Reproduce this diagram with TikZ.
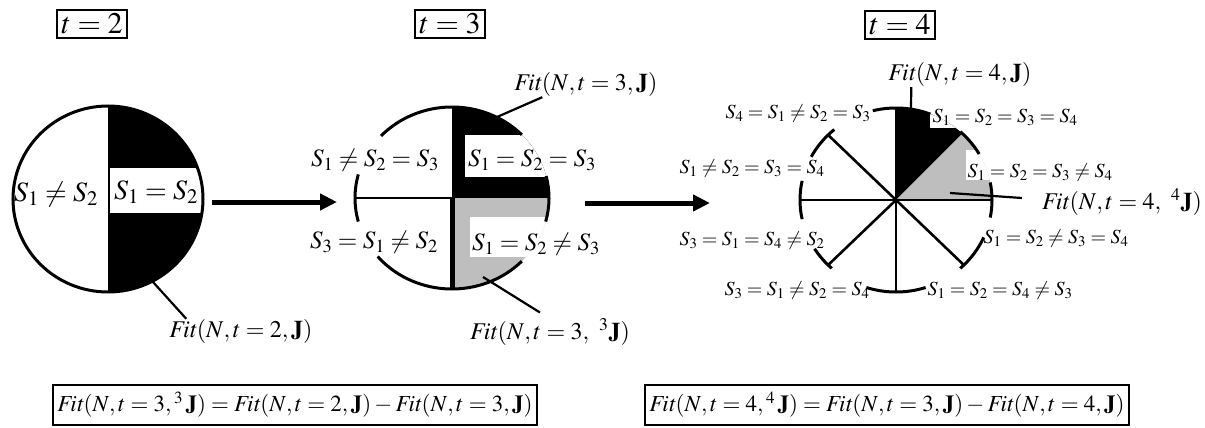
\documentclass[tikz,border=0pt]{standalone}
\usepackage{mathptmx}
\usepackage{tikz}
\usetikzlibrary{arrows.meta,positioning,calc}
\definecolor{ink}{HTML}{000000}
\definecolor{stipple}{HTML}{BEBEBE}
\newcommand{\Fit}{\mathit{Fit}}
\tikzset{
  tbox/.style={draw=ink, line width=1.8pt, inner sep=4pt, font=\fontsize{30}{32}\selectfont},
  eqbox/.style={draw=ink, line width=1.8pt, inner sep=4pt, minimum height=40pt,
                font=\fontsize{23}{26}\selectfont},
  bigs/.style={inner sep=0pt, font=\fontsize{28}{30}\selectfont},
  mids/.style={inner sep=0pt, font=\fontsize{25}{28}\selectfont},
  smalls/.style={inner sep=0pt, font=\fontsize{20}{24}\selectfont},
  fitlab/.style={inner sep=0pt, font=\fontsize{24}{28}\selectfont},
  rim/.style={line width=3pt, draw=ink},
  spoke/.style={line width=2.6pt, draw=ink},
  lead/.style={line width=2.2pt, draw=ink},
  flow/.style={-{Triangle[length=17pt,width=16pt]}, line width=5pt, draw=ink}
}

\begin{document}
\begin{tikzpicture}[x=1pt,y=-1pt]
  \useasboundingbox (0,0) rectangle (1205,428);
  % time stamps
  \node[tbox] (t2) at (92,24) {$t=2$};
  \node[tbox] (t3) at (450,24) {$t=3$};
  \node[tbox] (t4) at (900,25) {$t=4$};

  % t = 2
  \coordinate (c1) at (108,199);
  \begin{scope}
    \clip (c1) ellipse [x radius=95, y radius=93];
    \fill[ink] (108,100) rectangle (210,300);
    \fill[white] (110,168) rectangle (210,213);
  \end{scope}
  \draw[rim] (c1) ellipse [x radius=95, y radius=93];
  \node[bigs] (ne12) at (56,194) {$S_1\neq S_2$};
  \node[bigs] (eq12) at (156,192) {$S_1=S_2$};
  \node[fitlab] (fitA) at (241,331) {$\Fit(N,t=2,\mathbf{J})$};
  \coordinate (pA) at (153,282);
  \draw[lead] (pA) -- ([xshift=17pt]fitA.north west);

  % t = 3
  \coordinate (c2) at (452,198);
  \begin{scope}
    \clip (c2) ellipse [x radius=97, y radius=91];
    \fill[ink] (452,90) rectangle (560,198);
    \fill[white] (465,135) rectangle (560,177);
    \fill[stipple] (452,198) rectangle (560,300);
    \fill[white] (470,217) rectangle (560,257);
  \end{scope}
  \draw[line width=1.6pt] (c2) -- ++(-97,0);
  \draw[line width=5pt] (c2) -- ++(0,91);
  \foreach \a/\b in {-44/-137,-165/-195,-220/-316,15/-14}
    \draw[rim] ([shift={(\a:97 and 91)}]c2) arc[start angle=\a, end angle=\b, x radius=97, y radius=91];
  \node[mids] (l3a) at (375,160) {$S_1\neq S_2=S_3$};
  \node[mids] (l3b) at (532,160) {$S_1=S_2=S_3$};
  \node[mids] (l3c) at (374,242) {$S_3=S_1\neq S_2$};
  \node[mids] (l3d) at (536,244) {$S_1=S_2\neq S_3$};
  \node[fitlab] (fitB) at (586,85) {$\Fit(N,t=3,\mathbf{J})$};
  \node[fitlab] (fitC) at (550,332) {$\Fit(N,t=3,\ {}^{3}\mathbf{J})$};
  \coordinate (pB) at (497,117);
  \coordinate (pC) at (483,277);
  \draw[lead] (pB) -- ([xshift=28pt]fitB.south west);
  \draw[lead] (pC) -- ([xshift=70pt,yshift=6pt]fitC.north west);

  % t = 4
  \coordinate (c3) at (896,200);
  \begin{scope}
    \clip (c3) ellipse [x radius=96, y radius=92];
    \fill[ink] (c3) -- (1100,-4) -- (896,-4) -- cycle;
    \fill[stipple] (c3) -- (1100,-4) -- (1100,200) -- cycle;
    \fill[white] (930,90) rectangle (1100,128);
    \fill[white] (966,150) rectangle (1100,180);
  \end{scope}
  \foreach \a in {0,-90,-135,-180,-225,-270,-315}
    \draw[spoke] (c3) -- ++(\a:96 and 92);
  \foreach \a/\b in {11/-11,-30/-48,-69/-104,-130/-152,-168/-192,-212/-228,-252/-288,-312/-336}
    \draw[rim] ([shift={(\a:96 and 92)}]c3) arc[start angle=\a, end angle=\b, x radius=96, y radius=92];
  \node[smalls] (l4a) at (798,113) {$S_4=S_1\neq S_2=S_3$};
  \node[smalls] (l4b) at (1005,117) {$S_1=S_2=S_3=S_4$};
  \node[smalls] (l4c) at (752,168) {$S_1\neq S_2=S_3=S_4$};
  \node[smalls] (l4d) at (1040,172) {$S_1=S_2=S_3\neq S_4$};
  \node[smalls] (l4e) at (752,240) {$S_3=S_1=S_4\neq S_2$};
  \node[smalls] (l4f) at (1056,238) {$S_1=S_2\neq S_3=S_4$};
  \node[smalls] (l4g) at (797,290) {$S_3=S_1\neq S_2=S_4$};
  \node[smalls] (l4h) at (1000,290) {$S_1=S_2=S_4\neq S_3$};
  \node[fitlab] (fitD) at (960,75) {$\Fit(N,t=4,\mathbf{J})$};
  \node[fitlab] (fitE) at (1122,202) {$\Fit(N,t=4,\ {}^{4}\mathbf{J})$};
  \coordinate (pD) at (911,108);
  \coordinate (pE) at (950,193);
  \draw[lead] (pD) -- ([xshift=23pt]fitD.south west);
  \draw[lead] (pE) -- ([xshift=-20pt,yshift=4pt]fitE.west);

  % steps
  \coordinate (a1s) at (212,202);
  \coordinate (a1e) at (337,202);
  \coordinate (a2s) at (585,203);
  \coordinate (a2e) at (710,203);
  \draw[flow] (a1s) -- (a1e);
  \draw[flow] (a2s) -- (a2e);

  % differences
  \node[eqbox] (d3) at (295,405) {$\Fit(N,t=3,{}^{3}\,\mathbf{J})=\Fit(N,t=2,\mathbf{J})-\Fit(N,t=3,\mathbf{J})$};
  \node[eqbox] (d4) at (887,405) {$\Fit(N,t=4,{}^{4}\,\mathbf{J})=\Fit(N,t=3,\mathbf{J})-\Fit(N,t=4,\mathbf{J})$};
\end{tikzpicture}
\end{document}
